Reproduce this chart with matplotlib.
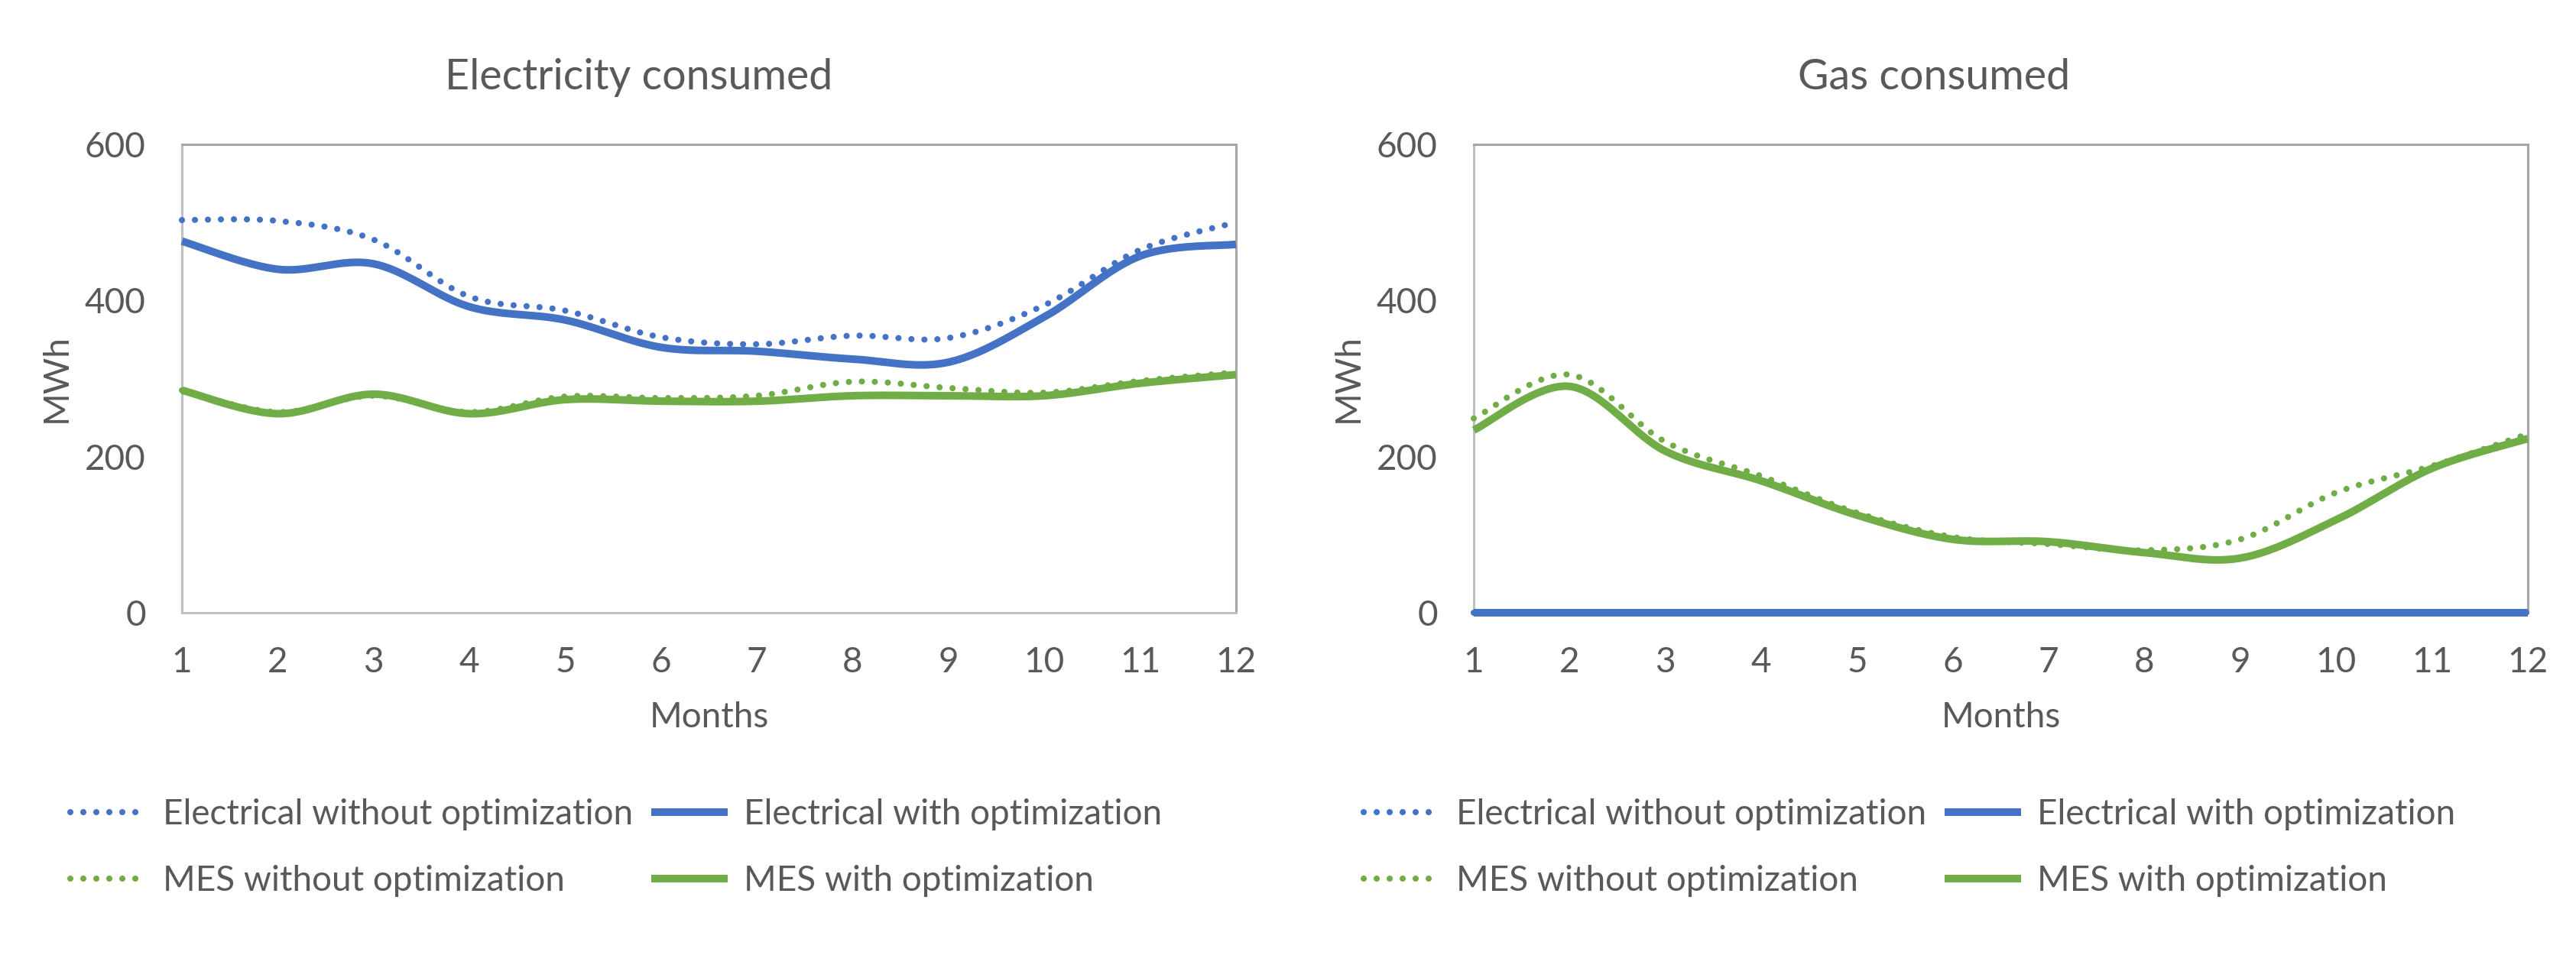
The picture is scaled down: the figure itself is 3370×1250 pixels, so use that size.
import matplotlib.pyplot as plt
import numpy as np

plt.rcParams['font.family'] = ['Lato', 'DejaVu Sans']

months = [1, 2, 3, 4, 5, 6, 7, 8, 9, 10, 11, 12]

# Electricity consumed (MWh)
elec_el_without = [503, 502, 478, 405, 387, 353, 344, 355, 352, 394, 465, 500]
elec_el_with = [476, 440, 447, 392, 375, 340, 335, 325, 321, 379, 457, 472]
elec_mes_without = [285, 257, 278, 257, 277, 275, 278, 296, 288, 282, 297, 308]
elec_mes_with = [285, 255, 280, 255, 273, 271, 271, 278, 278, 278, 294, 305]

# Gas consumed (MWh)
gas_el_without = [0, 0, 0, 0, 0, 0, 0, 0, 0, 0, 0, 0]
gas_el_with = [0, 0, 0, 0, 0, 0, 0, 0, 0, 0, 0, 0]
gas_mes_without = [249, 305, 219, 175, 128, 97, 88, 80, 94, 154, 188, 229]
gas_mes_with = [234, 290, 207, 169, 125, 94, 91, 77, 70, 119, 185, 223]

labels = ["Electrical without optimization", "Electrical with optimization",
          "MES without optimization", "MES with optimization"]

BLUE = '#4472C4'
GREEN = '#70AD47'
TXT = '#595959'


def smooth(x, y, n=40):
    # excel-like smoothed line: cubic bezier through each point
    pts = np.column_stack([x, y]).astype(float)
    P = np.vstack([pts[0], pts, pts[-1]])
    t = np.linspace(0, 1, n)[:, None]
    out = []
    for i in range(len(pts) - 1):
        p0 = P[i + 1]
        p3 = P[i + 2]
        c1 = p0 + (P[i + 2] - P[i]) / 6
        c2 = p3 - (P[i + 3] - P[i + 1]) / 6
        seg = ((1 - t) ** 3) * p0 + 3 * ((1 - t) ** 2) * t * c1 + 3 * (1 - t) * t ** 2 * c2 + t ** 3 * p3
        out.append(seg if i == 0 else seg[1:])
    out = np.vstack(out)
    return out[:, 0], out[:, 1]


dot = dict(lw=5.8, linestyle=(0, (0.01, 2.1)), dash_capstyle='round')
solid = dict(lw=7.2, solid_capstyle='butt')

fig = plt.figure(figsize=(33.7, 12.5), dpi=100)

# title, series, axes left (px), title centre (px), legend left (px)
panels = [
    ("Electricity consumed", [elec_el_without, elec_el_with, elec_mes_without, elec_mes_with], 238, 836, 92),
    ("Gas consumed", [gas_el_without, gas_el_with, gas_mes_without, gas_mes_with], 1928, 2530, 1784),
]

for title, series, left_px, title_px, leg_px in panels:
    ax = fig.add_axes([left_px / 3370, (1250 - 802) / 1250, 1379 / 3370, 613 / 1250])
    handles = []
    styles = [(BLUE, dot), (BLUE, solid), (GREEN, dot), (GREEN, solid)]
    for vals, (col, st), lab in zip(series, styles, labels):
        sx, sy = smooth(months, vals)
        h, = ax.plot(sx, sy, color=col, label=lab, clip_on=False, zorder=3, **st)
        handles.append(h)

    ax.set_xlim(1, 12)
    ax.set_ylim(0, 600)
    ax.set_xticks(months)
    ax.set_yticks([0, 200, 400, 600])
    ax.tick_params(length=0, labelsize=33, labelcolor=TXT)
    ax.tick_params(axis='y', pad=34)
    ax.tick_params(axis='x', pad=32)
    for side in ['left', 'bottom']:
        ax.spines[side].set_color('#BFBFBF')
        ax.spines[side].set_linewidth(2.2)
    for side in ['top', 'right']:
        ax.spines[side].set_color('#A6A6A6')
        ax.spines[side].set_linewidth(2.2)

    ax.set_ylabel("MWh", fontsize=33, color=TXT, va='center')
    ax.yaxis.set_label_coords(-0.119, 0.5)
    ax.set_xlabel("Months", fontsize=33, color=TXT, va='center')
    ax.xaxis.set_label_coords(0.5, -0.2235)

    fig.text(title_px / 3370, 1 - 117 / 1250, title, fontsize=40, color=TXT,
             ha='center', va='baseline')

    order = [0, 2, 1, 3]
    ax.legend([handles[i] for i in order], [labels[i] for i in order], ncol=2,
              loc='upper left', bbox_to_anchor=(leg_px / 3370, 1 - 1045 / 1250),
              bbox_transform=fig.transFigure, frameon=False, borderpad=0,
              borderaxespad=0, handlelength=2.2, handletextpad=0.45,
              columnspacing=0.5, labelspacing=0.98, fontsize=33, labelcolor=TXT)

fig.savefig("out.png", dpi=100)
